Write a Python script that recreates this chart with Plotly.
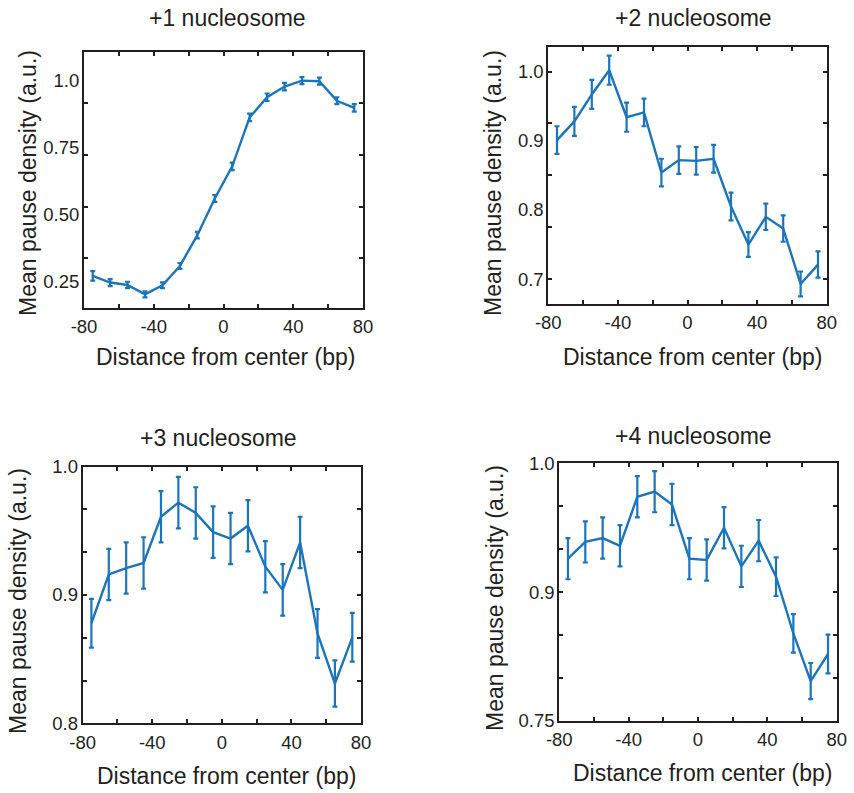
import plotly.graph_objects as go

# ---- data ----
positions_bp = [-75, -65, -55, -45, -35, -25, -15, -5, 5, 15, 25, 35, 45, 55, 65, 75]

panel_titles = ["+1 nucleosome", "+2 nucleosome", "+3 nucleosome", "+4 nucleosome"]
x_title = "Distance from center (bp)"
y_title = "Mean pause density (a.u.)"

nuc1_mean = [0.272, 0.247, 0.238, 0.203, 0.237, 0.309, 0.424, 0.561, 0.681, 0.864,
             0.939, 0.979, 1.001, 0.999, 0.926, 0.899]
nuc1_err = [0.018, 0.013, 0.012, 0.011, 0.011, 0.011, 0.012, 0.013, 0.014, 0.014,
            0.014, 0.014, 0.013, 0.013, 0.013, 0.014]

nuc2_mean = [0.901, 0.928, 0.967, 1.002, 0.934, 0.941, 0.854, 0.872, 0.871, 0.874,
             0.805, 0.750, 0.790, 0.773, 0.693, 0.721]
nuc2_err = [0.020, 0.021, 0.021, 0.021, 0.021, 0.020, 0.020, 0.020, 0.020, 0.020,
            0.020, 0.018, 0.019, 0.019, 0.018, 0.019]

nuc3_mean = [0.878, 0.916, 0.921, 0.925, 0.961, 0.972, 0.964, 0.949, 0.944, 0.954,
             0.922, 0.904, 0.941, 0.870, 0.831, 0.867]
nuc3_err = [0.019, 0.020, 0.020, 0.020, 0.020, 0.020, 0.020, 0.020, 0.020, 0.020,
            0.020, 0.020, 0.020, 0.019, 0.018, 0.019]

nuc4_mean = [0.926, 0.939, 0.942, 0.936, 0.974, 0.978, 0.968, 0.926, 0.925, 0.950,
             0.920, 0.940, 0.912, 0.868, 0.831, 0.852]
nuc4_err = [0.016, 0.016, 0.016, 0.016, 0.016, 0.016, 0.016, 0.016, 0.016, 0.016,
            0.016, 0.016, 0.015, 0.015, 0.014, 0.015]

x_tickvals = [-80, -40, 0, 40, 80]
x_ticktext = ["-80", "-40", "0", "40", "80"]

y1_tickvals = [0.25, 0.50, 0.75, 1.0]
y1_ticktext = ["0.25", "0.50", "0.75", "1.0"]
y2_tickvals = [0.7, 0.8, 0.9, 1.0]
y2_ticktext = ["0.7", "0.8", "0.9", "1.0"]
y3_tickvals = [0.8, 0.9, 1.0]
y3_ticktext = ["0.8", "0.9", "1.0"]
y4_tickvals = [0.8, 0.9, 1.0]
y4_ticktext = ["0.75", "0.9", "1.0"]

# ---- style / layout ----
W, H = 854, 793
BLUE = "#1c75bc"
DARK = "#231f20"
FONT = "Liberation Sans, Arial, Helvetica, sans-serif"

panels = [
    dict(mean=nuc1_mean, err=nuc1_err, box=(84, 363, 52, 308), yr=[0.152, 1.108],
         ytv=y1_tickvals, ytt=y1_ticktext, yminor=[0.339, 0.529, 0.724, 0.918],
         title=(227, 18), xt=(225, 357), yt=(28, 183)),
    dict(mean=nuc2_mean, err=nuc2_err, box=(548.3, 826.7, 46.7, 304), yr=[0.664, 1.036],
         ytv=y2_tickvals, ytt=y2_ticktext, yminor=[0.7, 0.775, 0.85, 0.925, 1.0],
         title=(693, 18), xt=(692, 357), yt=(493, 183)),
    dict(mean=nuc3_mean, err=nuc3_err, box=(82.7, 361, 466.7, 723.3), yr=[0.8, 1.0],
         ytv=y3_tickvals, ytt=y3_ticktext, yminor=[0.8333, 0.8667, 0.9, 0.9333, 0.9667],
         title=(218, 438), xt=(226, 776), yt=(18, 601)),
    dict(mean=nuc4_mean, err=nuc4_err, box=(559.3, 836.7, 463.3, 721), yr=[0.8, 1.0],
         ytv=y4_tickvals, ytt=y4_ticktext, yminor=[0.8333, 0.8667, 0.9, 0.9333, 0.9667],
         title=(693, 436), xt=(702, 773), yt=(495, 598)),
]

fig = go.Figure()
annotations = []
layout_axes = {}

for i, p in enumerate(panels):
    n = i + 1
    xa = "x" if n == 1 else f"x{n}"
    ya = "y" if n == 1 else f"y{n}"
    fig.add_trace(go.Scatter(
        x=positions_bp, y=p["mean"], xaxis=xa, yaxis=ya, mode="lines",
        line=dict(color=BLUE, width=2.4),
        error_y=dict(type="data", array=p["err"], visible=True, color=BLUE,
                     thickness=2.2, width=2.5),
        showlegend=False, hoverinfo="x+y"))
    x0, x1, y0, y1 = p["box"]
    common = dict(showline=True, linecolor=DARK, linewidth=2, mirror="allticks",
                  showgrid=False, zeroline=False, ticks="inside", automargin=False,
                  tickfont=dict(family=FONT, size=18.5, color=DARK))
    layout_axes["xaxis" if n == 1 else f"xaxis{n}"] = dict(
        common, domain=[x0 / W, x1 / W], range=[-80, 80], anchor=ya,
        tickmode="array", tickvals=x_tickvals, ticktext=x_ticktext,
        ticklen=4, tickwidth=2, tickcolor=DARK, ticklabelstandoff=1,
        minor=dict(tickmode="array", tickvals=[-60, -20, 20, 60], ticks="inside",
                   ticklen=4, tickwidth=2, tickcolor=DARK, showgrid=False))
    layout_axes["yaxis" if n == 1 else f"yaxis{n}"] = dict(
        common, domain=[1 - y1 / H, 1 - y0 / H], range=p["yr"], anchor=xa,
        tickmode="array", tickvals=p["ytv"], ticktext=p["ytt"],
        ticklen=0, tickwidth=0, ticklabelstandoff=-1,
        minor=dict(tickmode="array", tickvals=p["yminor"], ticks="inside",
                   ticklen=4, tickwidth=2, tickcolor=DARK, showgrid=False))
    annotations.append(dict(text=panel_titles[i], x=p["title"][0] / W, y=1 - p["title"][1] / H,
                            xref="paper", yref="paper", showarrow=False,
                            xanchor="center", yanchor="middle",
                            font=dict(family=FONT, size=23, color=DARK)))
    annotations.append(dict(text=x_title, x=p["xt"][0] / W, y=1 - p["xt"][1] / H,
                            xref="paper", yref="paper", showarrow=False,
                            xanchor="center", yanchor="middle",
                            font=dict(family=FONT, size=23, color=DARK)))
    annotations.append(dict(text=y_title, x=p["yt"][0] / W, y=1 - p["yt"][1] / H,
                            xref="paper", yref="paper", showarrow=False, textangle=-90,
                            xanchor="center", yanchor="middle",
                            font=dict(family=FONT, size=23, color=DARK)))

fig.update_layout(template="none", width=W, height=H,
                  margin=dict(l=0, r=0, t=0, b=0, pad=0),
                  paper_bgcolor="white", plot_bgcolor="white",
                  font=dict(family=FONT, size=18, color=DARK),
                  annotations=annotations, **layout_axes)

fig.write_html("out.html")
